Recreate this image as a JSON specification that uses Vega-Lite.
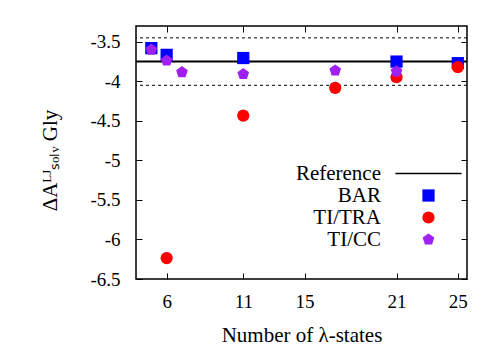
{
  "$schema": "https://vega.github.io/schema/vega-lite/v6.json",
  "width": 331,
  "height": 253,
  "autosize": {"type": "none"},
  "padding": {"left": 136, "top": 26, "right": 33, "bottom": 71},
  "background": "white",
  "config": {
    "view": {"stroke": "black", "strokeWidth": 1.5},
    "font": "Liberation Serif",
    "style": {"guide-label": {"font": "Liberation Serif", "fill": "black"}, "guide-title": {"font": "Liberation Serif", "fill": "black"}},
    "axis": {
      "labelFont": "Liberation Serif",
      "labelFontSize": 19,
      "labelColor": "black",
      "titleFont": "Liberation Serif",
      "titleFontSize": 21,
      "titleFontWeight": "normal",
      "titleColor": "black",
      "tickColor": "black",
      "tickSize": -6,
      "tickWidth": 1,
      "domain": false,
      "grid": false
    }
  },
  "datasets": {
    "pts": [
      {"n": 5, "v": -3.58, "method": "BAR"},
      {"n": 6, "v": -3.665, "method": "BAR"},
      {"n": 11, "v": -3.705, "method": "BAR"},
      {"n": 21, "v": -3.75, "method": "BAR"},
      {"n": 25, "v": -3.77, "method": "BAR"},
      {"n": 6, "v": -6.235, "method": "TI/TRA"},
      {"n": 11, "v": -4.433, "method": "TI/TRA"},
      {"n": 17, "v": -4.082, "method": "TI/TRA"},
      {"n": 21, "v": -3.947, "method": "TI/TRA"},
      {"n": 25, "v": -3.82, "method": "TI/TRA"},
      {"n": 5, "v": -3.6, "method": "TI/CC"},
      {"n": 6, "v": -3.737, "method": "TI/CC"},
      {"n": 7, "v": -3.884, "method": "TI/CC"},
      {"n": 11, "v": -3.909, "method": "TI/CC"},
      {"n": 17, "v": -3.863, "method": "TI/CC"},
      {"n": 21, "v": -3.875, "method": "TI/CC"}
    ],
    "bounds": [{"y": -3.45}, {"y": -4.05}],
    "ref": [{"y": -3.75}]
  },
  "layer": [
    {
      "data": {"name": "bounds"},
      "mark": {"type": "rule", "strokeDash": [3, 3], "strokeWidth": 1, "color": "black"},
      "encoding": {
        "y": {"field": "y", "type": "quantitative", "scale": {"domain": [-6.5, -3.3], "nice": false, "zero": false}, "axis": null}
      }
    },
    {
      "data": {"name": "ref"},
      "mark": {"type": "rule", "strokeWidth": 2, "color": "black"},
      "encoding": {
        "y": {"field": "y", "type": "quantitative", "axis": null}
      }
    },
    {
      "data": {"name": "pts"},
      "mark": {"type": "point", "filled": true, "opacity": 1, "size": 150},
      "encoding": {
        "x": {
          "field": "n", "type": "quantitative",
          "scale": {"domain": [4, 25.6], "nice": false, "zero": false},
          "axis": {"orient": "bottom", "values": [6, 11, 15, 21, 25], "title": "Number of λ-states", "labelFont": "Liberation Serif", "titleFont": "Liberation Serif", "labelPadding": 34, "labelBaseline": "alphabetic", "titleBaseline": "alphabetic", "titleY": 62}
        },
        "y": {
          "field": "v", "type": "quantitative",
          "axis": {"orient": "left", "values": [-6.5, -6, -5.5, -5, -4.5, -4, -3.5], "labelExpr": "'' + datum.value", "labelFont": "Liberation Serif", "titleFont": "Liberation Serif", "labelPadding": 22, "title": "ΔAᴸᴶₛₒₗᵥ Gly", "titleX": -80, "titleY": 134, "titleBaseline": "alphabetic", "titleAlign": "center", "titleAngle": 270}
        },
        "color": {
          "field": "method", "type": "nominal",
          "scale": {"domain": ["Reference", "BAR", "TI/TRA", "TI/CC"], "range": ["#000000", "#0000ff", "#ff0000", "#a020f0"]},
          "legend": {"orient": "none", "legendX": 282, "legendY": 137, "title": null, "padding": 0, "labelFont": "Liberation Serif", "labelFontSize": 21, "labelColor": "black", "labelAlign": "right", "labelOffset": -58, "symbolSize": 150, "rowPadding": 0, "symbolOpacity": 1,
            "encode": {"symbols": {"update": {"stroke": {"signal": "datum.value === 'Reference' ? 'black' : 'transparent'"}, "strokeWidth": {"value": 1.5}}}}}
        },
        "shape": {
          "field": "method", "type": "nominal",
          "scale": {"domain": ["Reference", "BAR", "TI/TRA", "TI/CC"], "range": ["M-5.4,0H5.4", "square", "circle", "M0,-1L0.951,-0.309L0.588,0.809L-0.588,0.809L-0.951,-0.309Z"]},
          "legend": {"orient": "none", "legendX": 282, "legendY": 137, "title": null, "padding": 0, "labelFont": "Liberation Serif", "labelFontSize": 21, "labelColor": "black", "labelAlign": "right", "labelOffset": -58, "symbolSize": 150, "rowPadding": 0, "symbolOpacity": 1,
            "encode": {"symbols": {"update": {"stroke": {"signal": "datum.value === 'Reference' ? 'black' : 'transparent'"}, "strokeWidth": {"value": 1.5}}}}}
        }
      }
    },
    {
      "data": {"name": "pts"},
      "mark": {"type": "point", "opacity": 0},
      "encoding": {
        "x": {"field": "n", "type": "quantitative", "axis": {"orient": "top", "values": [6, 11, 15, 21, 25], "labels": false, "title": null}},
        "y": {"field": "v", "type": "quantitative", "axis": {"orient": "right", "values": [-6.5, -6, -5.5, -5, -4.5, -4, -3.5], "labels": false, "title": null}}
      }
    }
  ],
  "resolve": {"axis": {"x": "independent", "y": "independent"}}
}
